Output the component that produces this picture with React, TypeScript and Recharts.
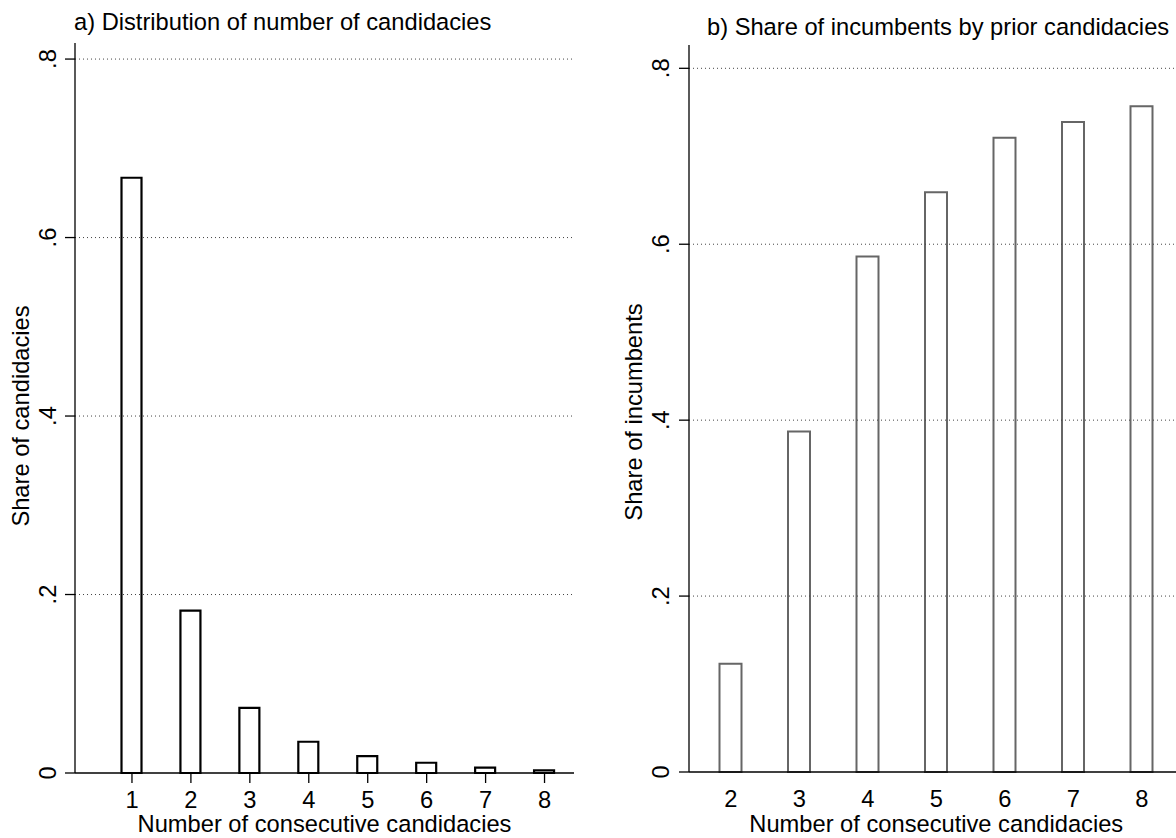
import { BarChart, Bar, XAxis, YAxis, ReferenceLine } from "recharts";

const FONT = "'Liberation Sans', Arial, Helvetica, sans-serif";
const FS = 23.7;

// a) distribution of number of candidacies
const candidacyCounts = ["1", "2", "3", "4", "5", "6", "7", "8"];
const candidacyShares = [0.667, 0.182, 0.073, 0.035, 0.019, 0.0115, 0.006, 0.003];

// b) share of incumbents by prior candidacies
const priorCounts = ["2", "3", "4", "5", "6", "7", "8"];
const incumbentShares = [0.123, 0.387, 0.586, 0.659, 0.721, 0.739, 0.757];

const yTicks = [0, 0.2, 0.4, 0.6, 0.8];

const leftData = candidacyCounts.map((n, i) => ({ n, share: candidacyShares[i] }));
const rightData = priorCounts.map((n, i) => ({ n, share: incumbentShares[i] }));

const fmt = (v: number) => (v === 0 ? "0" : String(v).replace(/^0/, ""));

function YTick(props: any) {
  const { x, y, payload } = props;
  return (
    <text
      x={x}
      y={y}
      transform={`rotate(-90 ${x} ${y})`}
      textAnchor="middle"
      fontSize={FS}
      fontFamily={FONT}
      fill="#000"
    >
      {fmt(payload.value)}
    </text>
  );
}

function XTick(props: any) {
  const { x, y, payload } = props;
  return (
    <text x={x} y={y} dy="0.71em" textAnchor="middle" fontSize={FS} fontFamily={FONT} fill="#000">
      {payload.value}
    </text>
  );
}

function yTitle(text: string, x: number, cy: number) {
  return () => (
    <text
      x={x}
      y={cy}
      transform={`rotate(-90 ${x} ${cy})`}
      textAnchor="middle"
      fontSize={FS}
      fontFamily={FONT}
      fill="#000"
    >
      {text}
    </text>
  );
}

const xTitle = { value: "Number of consecutive candidacies", position: "insideBottom" as const, offset: 6, fontSize: FS, fontFamily: FONT, fill: "#000" };

const gridLines = yTicks
  .filter((v) => v > 0)
  .map((v) => <ReferenceLine key={v} y={v} stroke="#444" strokeDasharray="1 3" strokeWidth={1} />);

export default function App() {
  return (
    <div style={{ position: "absolute", left: 0, top: 0, width: 1176, height: 838, overflow: "hidden", background: "#fff" }}>
      <div style={{ position: "absolute", left: 0, top: 0 }}>
        <BarChart width={594} height={838} data={leftData} margin={{ top: 43, right: 20, left: 0, bottom: 0 }}>
          {gridLines}
          <XAxis
            dataKey="n"
            height={65}
            padding={{ left: 27.5, right: 0 }}
            tickSize={10}
            tickMargin={8}
            tick={<XTick />}
            interval={0}
            axisLine={{ stroke: "#000", strokeWidth: 1.3 }}
            tickLine={{ stroke: "#000", strokeWidth: 1.3 }}
            label={xTitle}
          />
          <YAxis
            width={75}
            domain={[0, 0.818]}
            ticks={yTicks}
            interval={0}
            tickSize={10}
            tickMargin={9}
            tick={<YTick />}
            axisLine={{ stroke: "#000", strokeWidth: 1.3 }}
            tickLine={{ stroke: "#000", strokeWidth: 1.3 }}
            label={yTitle("Share of candidacies", 29, 416)}
          />
          <Bar dataKey="share" barSize={20} fill="#fff" stroke="#000" strokeWidth={2.2} isAnimationActive={false} />
        </BarChart>
      </div>
      <div style={{ position: "absolute", left: 590, top: 0 }}>
        <BarChart width={604} height={838} data={rightData} margin={{ top: 45, right: 10.5, left: 0, bottom: 0 }}>
          {gridLines}
          <XAxis
            dataKey="n"
            height={66}
            padding={{ left: 7.5, right: 7.5 }}
            tickSize={10}
            tickMargin={8}
            tick={<XTick />}
            interval={0}
            axisLine={{ stroke: "#000", strokeWidth: 1.3 }}
            tickLine={false}
            label={xTitle}
          />
          <YAxis
            width={99}
            domain={[0, 0.8265]}
            ticks={yTicks}
            interval={0}
            tickSize={10}
            tickMargin={10}
            tick={<YTick />}
            axisLine={{ stroke: "#000", strokeWidth: 1.3 }}
            tickLine={{ stroke: "#000", strokeWidth: 1.3 }}
            label={yTitle("Share of incumbents", 52, 412)}
          />
          <Bar dataKey="share" barSize={22} fill="#fff" stroke="#666" strokeWidth={2} isAnimationActive={false} />
        </BarChart>
      </div>
      <svg width={1176} height={838} style={{ position: "absolute", left: 0, top: 0, pointerEvents: "none" }}>
        <text x={74} y={30} fontSize={FS} fontFamily={FONT} fill="#000">
          a) Distribution of number of candidacies
        </text>
        <text x={707} y={35} fontSize={FS} fontFamily={FONT} fill="#000">
          b) Share of incumbents by prior candidacies
        </text>
      </svg>
    </div>
  );
}
